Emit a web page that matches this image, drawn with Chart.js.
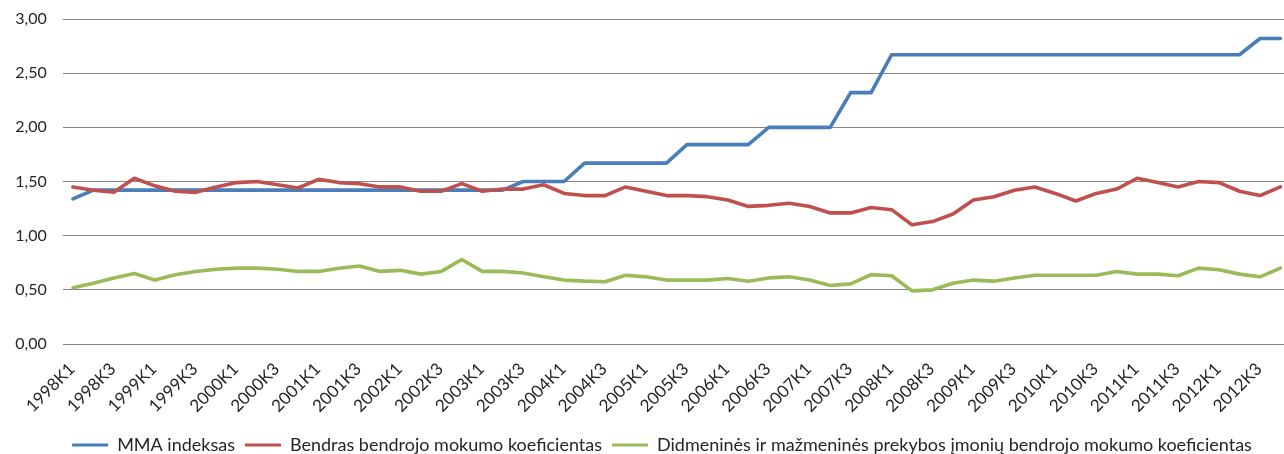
<!DOCTYPE html>
<html><head><meta charset="utf-8">
<script src="https://cdn.jsdelivr.net/npm/chart.js@4.4.1/dist/chart.umd.min.js"></script>
<style>
html,body{margin:0;padding:0;background:#fff;overflow:hidden;width:1284px;height:454px}
#wrap{position:relative;width:1284px;height:454px;overflow:hidden}
canvas{position:absolute;left:0;top:0}
</style></head>
<body><div id="wrap"><canvas id="c" width="1310" height="464"></canvas></div>
<script>
const categories = [
 '1998K1','1998K2','1998K3','1998K4','1999K1','1999K2','1999K3','1999K4',
 '2000K1','2000K2','2000K3','2000K4','2001K1','2001K2','2001K3','2001K4',
 '2002K1','2002K2','2002K3','2002K4','2003K1','2003K2','2003K3','2003K4',
 '2004K1','2004K2','2004K3','2004K4','2005K1','2005K2','2005K3','2005K4',
 '2006K1','2006K2','2006K3','2006K4','2007K1','2007K2','2007K3','2007K4',
 '2008K1','2008K2','2008K3','2008K4','2009K1','2009K2','2009K3','2009K4',
 '2010K1','2010K2','2010K3','2010K4','2011K1','2011K2','2011K3','2011K4',
 '2012K1','2012K2','2012K3','2012K4'
];
const mmaIndeksas = [
 1.34,1.42,1.42,1.42,1.42,1.42,1.42,1.42,1.42,1.42,1.42,1.42,1.42,1.42,1.42,1.42,
 1.42,1.42,1.42,1.42,1.42,1.42,1.50,1.50,1.50,1.67,1.67,1.67,1.67,1.67,1.84,1.84,
 1.84,1.84,2.00,2.00,2.00,2.00,2.32,2.32,2.67,2.67,2.67,2.67,2.67,2.67,2.67,2.67,
 2.67,2.67,2.67,2.67,2.67,2.67,2.67,2.67,2.67,2.67,2.82,2.82
];
const bendrasKoef = [
 1.45,1.42,1.40,1.53,1.46,1.41,1.40,1.45,1.49,1.50,1.47,1.44,1.52,1.49,1.48,1.45,
 1.45,1.41,1.41,1.48,1.41,1.43,1.43,1.47,1.39,1.37,1.37,1.45,1.41,1.37,1.37,1.36,
 1.33,1.27,1.28,1.30,1.27,1.21,1.21,1.26,1.24,1.10,1.13,1.20,1.33,1.36,1.42,1.45,
 1.39,1.32,1.39,1.43,1.53,1.49,1.45,1.50,1.49,1.41,1.37,1.45
];
const prekybosKoef = [
 0.52,0.56,0.61,0.65,0.59,0.64,0.67,0.69,0.70,0.70,0.69,0.67,0.67,0.70,0.72,0.67,
 0.68,0.645,0.67,0.78,0.67,0.67,0.655,0.62,0.59,0.58,0.575,0.635,0.62,0.59,0.59,0.59,
 0.605,0.58,0.61,0.62,0.59,0.54,0.555,0.64,0.63,0.49,0.50,0.56,0.59,0.58,0.61,0.635,
 0.635,0.635,0.635,0.67,0.645,0.645,0.63,0.70,0.685,0.645,0.62,0.70
];
const seriesNames = [
 'MMA indeksas',
 'Bendras bendrojo mokumo koeficientas',
 'Didmeninės ir mažmeninės prekybos įmonių bendrojo mokumo koeficientas'
];
const seriesColors = ['#4a7ebb','#c0504d','#9bbb59'];

const FONT = 'Lato';
const TXT = '#262626';

const legendShift = {
  id: 'legendShift',
  afterLayout(chart) {
    const l = chart.legend;
    if (l) { l.left += 15; l.right += 15; }
  }
};

new Chart(document.getElementById('c'), {
  type: 'line',
  plugins: [legendShift],
  data: {
    labels: categories,
    datasets: [
      {label: seriesNames[0], data: mmaIndeksas, borderColor: seriesColors[0], backgroundColor: seriesColors[0], order: 2},
      {label: seriesNames[1], data: bendrasKoef, borderColor: seriesColors[1], backgroundColor: seriesColors[1], order: 1},
      {label: seriesNames[2], data: prekybosKoef, borderColor: seriesColors[2], backgroundColor: seriesColors[2], order: 0}
    ]
  },
  options: {
    responsive: false,
    animation: false,
    devicePixelRatio: 1,
    elements: {
      line: {borderWidth: 3.6, tension: 0, borderCapStyle: 'round', borderJoinStyle: 'round'},
      point: {radius: 0, hoverRadius: 0}
    },
    layout: {padding: {left: 0, right: 16, top: 19, bottom: 0}},
    plugins: {
      tooltip: {enabled: false},
      legend: {
        position: 'bottom',
        labels: {
          font: {family: FONT, size: 18},
          color: TXT,
          boxWidth: 36,
          boxHeight: 3,
          padding: 10,
          generateLabels: (chart) => chart.data.datasets.map((ds, i) => ({
            text: ds.label, fillStyle: ds.borderColor, strokeStyle: ds.borderColor,
            lineWidth: 0, hidden: false, datasetIndex: i, fontColor: TXT
          }))
        }
      }
    },
    scales: {
      x: {
        offset: true,
        grid: {display: false, drawTicks: false},
        border: {display: false},
        ticks: {
          autoSkip: false, minRotation: 45, maxRotation: 45, padding: 15, labelOffset: -1,
          font: {family: FONT, size: 17}, color: TXT,
          callback: (v, i) => (i % 2 === 0 ? categories[i] : '')
        },
        afterFit: (s) => { s.height = 82; }
      },
      y: {
        min: 0, max: 3,
        grid: {color: '#878787', lineWidth: 1, drawTicks: true, tickLength: 16, tickColor: 'rgba(0,0,0,0)'},
        border: {display: false},
        ticks: {
          stepSize: 0.5, padding: 0,
          font: {family: FONT, size: 16}, color: TXT,
          callback: (v) => v.toFixed(2).replace('.', ',')
        },
        afterFit: (s) => { s.width = 62.7; }
      }
    }
  }
});
</script>
</body></html>
